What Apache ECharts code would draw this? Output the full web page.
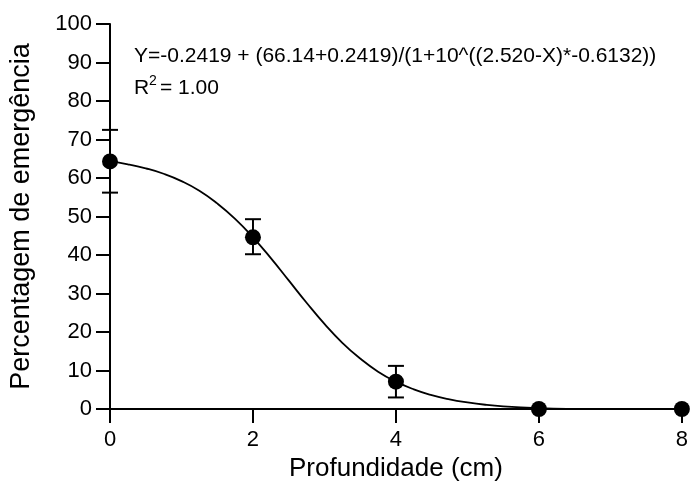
<!DOCTYPE html>
<html>
<head>
<meta charset="utf-8">
<script src="https://cdn.jsdelivr.net/npm/echarts@6/dist/echarts.min.js"></script>
<style>
	html, body { margin: 0; padding: 0; background: #fff; }
	#main { width: 691px; height: 498px; }
</style>
</head>
<body>
<div id="main"></div>
<script>
var depth = [0, 2, 4, 6, 8];
var emergence = [64.3, 44.6, 7.1, 0, 0];
var errLow = [56.2, 40.2, 3.0, 0, 0];
var errHigh = [72.5, 49.3, 11.2, 0, 0];

// fitted curve
var curveX = [0, 0.25, 0.5, 0.75, 1, 1.25, 1.5, 1.75, 2, 2.25, 2.5, 2.75, 3, 3.25, 3.5, 3.75, 4, 4.25, 4.5, 4.75, 5, 5.25, 5.5, 6, 6.5, 7, 8];
var curveY = [64.3, 63.55, 62.5, 61.1, 59.2, 56.7, 53.4, 49.4, 44.6, 39.2, 33.4, 27.6, 22.1, 17.2, 13.1, 9.7, 7.1, 5.1, 3.6, 2.5, 1.7, 1.1, 0.7, 0.24, 0, -0.1, -0.2];

var xTicks = [0, 2, 4, 6, 8];
var yTicks = [0, 10, 20, 30, 40, 50, 60, 70, 80, 90, 100];

function sampleFit() {
	var chartDom = document.getElementById('main');
	var myChart = echarts.init(chartDom);
	var option;

	var font = 'Liberation Sans, Arial, sans-serif';

	var curveData = curveX.map(function (x, i) { return [x, curveY[i]]; });
	var pointData = depth.map(function (x, i) { return [x, emergence[i]]; });
	var errData = depth.map(function (x, i) { return [x, errLow[i], errHigh[i]]; })
		.filter(function (d) { return d[2] > d[1]; });

	option = {
		animation: false,
		backgroundColor: '#fff',
		grid: {
			left: 110,
			right: 7,
			top: 24,
			bottom: 89
		},
		xAxis: {
			type: 'value',
			min: 0,
			max: 8,
			interval: 2,
			name: 'Profundidade (cm)',
			nameLocation: 'middle',
			nameGap: 38,
			nameTextStyle: { fontFamily: font, fontSize: 26, color: '#000' },
			axisLine: { onZero: false, lineStyle: { color: '#000', width: 2 } },
			axisTick: { show: true, inside: false, length: 14, lineStyle: { color: '#000', width: 2 } },
			axisLabel: {
				fontFamily: font, fontSize: 22, color: '#000', margin: 20,
				formatter: function (v) { return xTicks.indexOf(v) >= 0 ? String(v) : ''; }
			},
			splitLine: { show: false }
		},
		yAxis: {
			type: 'value',
			min: 0,
			max: 100,
			interval: 10,
			name: 'Percentagem de emergência',
			nameLocation: 'middle',
			nameGap: 75,
			nameTextStyle: { fontFamily: font, fontSize: 27, color: '#000' },
			axisLine: { show: true, onZero: false, lineStyle: { color: '#000', width: 2 } },
			axisTick: { show: true, inside: false, length: 14, lineStyle: { color: '#000', width: 2 } },
			axisLabel: {
				fontFamily: font, fontSize: 22, color: '#000', margin: 18,
				formatter: function (v) { return yTicks.indexOf(v) >= 0 ? String(v) : ''; }
			},
			splitLine: { show: false }
		},
		series: [
			{
				name: 'fit',
				type: 'line',
				data: curveData,
				smooth: true,
				showSymbol: false,
				symbol: 'none',
				lineStyle: { color: '#000', width: 1.8 },
				z: 2
			},
			{
				name: 'error',
				type: 'custom',
				data: errData,
				renderItem: function (params, api) {
					var x = api.value(0);
					var lo = api.coord([x, api.value(1)]);
					var hi = api.coord([x, api.value(2)]);
					var half = 8;
					var style = { stroke: '#000', lineWidth: 2 };
					return {
						type: 'group',
						children: [
							{ type: 'line', shape: { x1: lo[0], y1: lo[1], x2: hi[0], y2: hi[1] }, style: style },
							{ type: 'line', shape: { x1: lo[0] - half, y1: lo[1], x2: lo[0] + half, y2: lo[1] }, style: style },
							{ type: 'line', shape: { x1: hi[0] - half, y1: hi[1], x2: hi[0] + half, y2: hi[1] }, style: style }
						]
					};
				},
				z: 3
			},
			{
				name: 'mean',
				type: 'scatter',
				data: pointData,
				symbol: 'circle',
				symbolSize: 16,
				itemStyle: { color: '#000', opacity: 1 },
				clip: false,
				z: 4
			}
		],
		graphic: [
			{
				type: 'text',
				left: 134,
				top: 46,
				style: {
					text: 'Y=-0.2419 + (66.14+0.2419)/(1+10^((2.520-X)*-0.6132))',
					fontFamily: font,
					fontSize: 21,
					fill: '#000'
				}
			},
			{
				type: 'text',
				left: 134,
				top: 78,
				style: { text: 'R', fontFamily: font, fontSize: 21, fill: '#000' }
			},
			{
				type: 'text',
				left: 149,
				top: 74,
				style: { text: '2', fontFamily: font, fontSize: 14, fill: '#000' }
			},
			{
				type: 'text',
				left: 160,
				top: 78,
				style: { text: '= 1.00', fontFamily: font, fontSize: 21, fill: '#000' }
			}
		]
	};

	option && myChart.setOption(option);
}

sampleFit();
</script>
</body>
</html>
